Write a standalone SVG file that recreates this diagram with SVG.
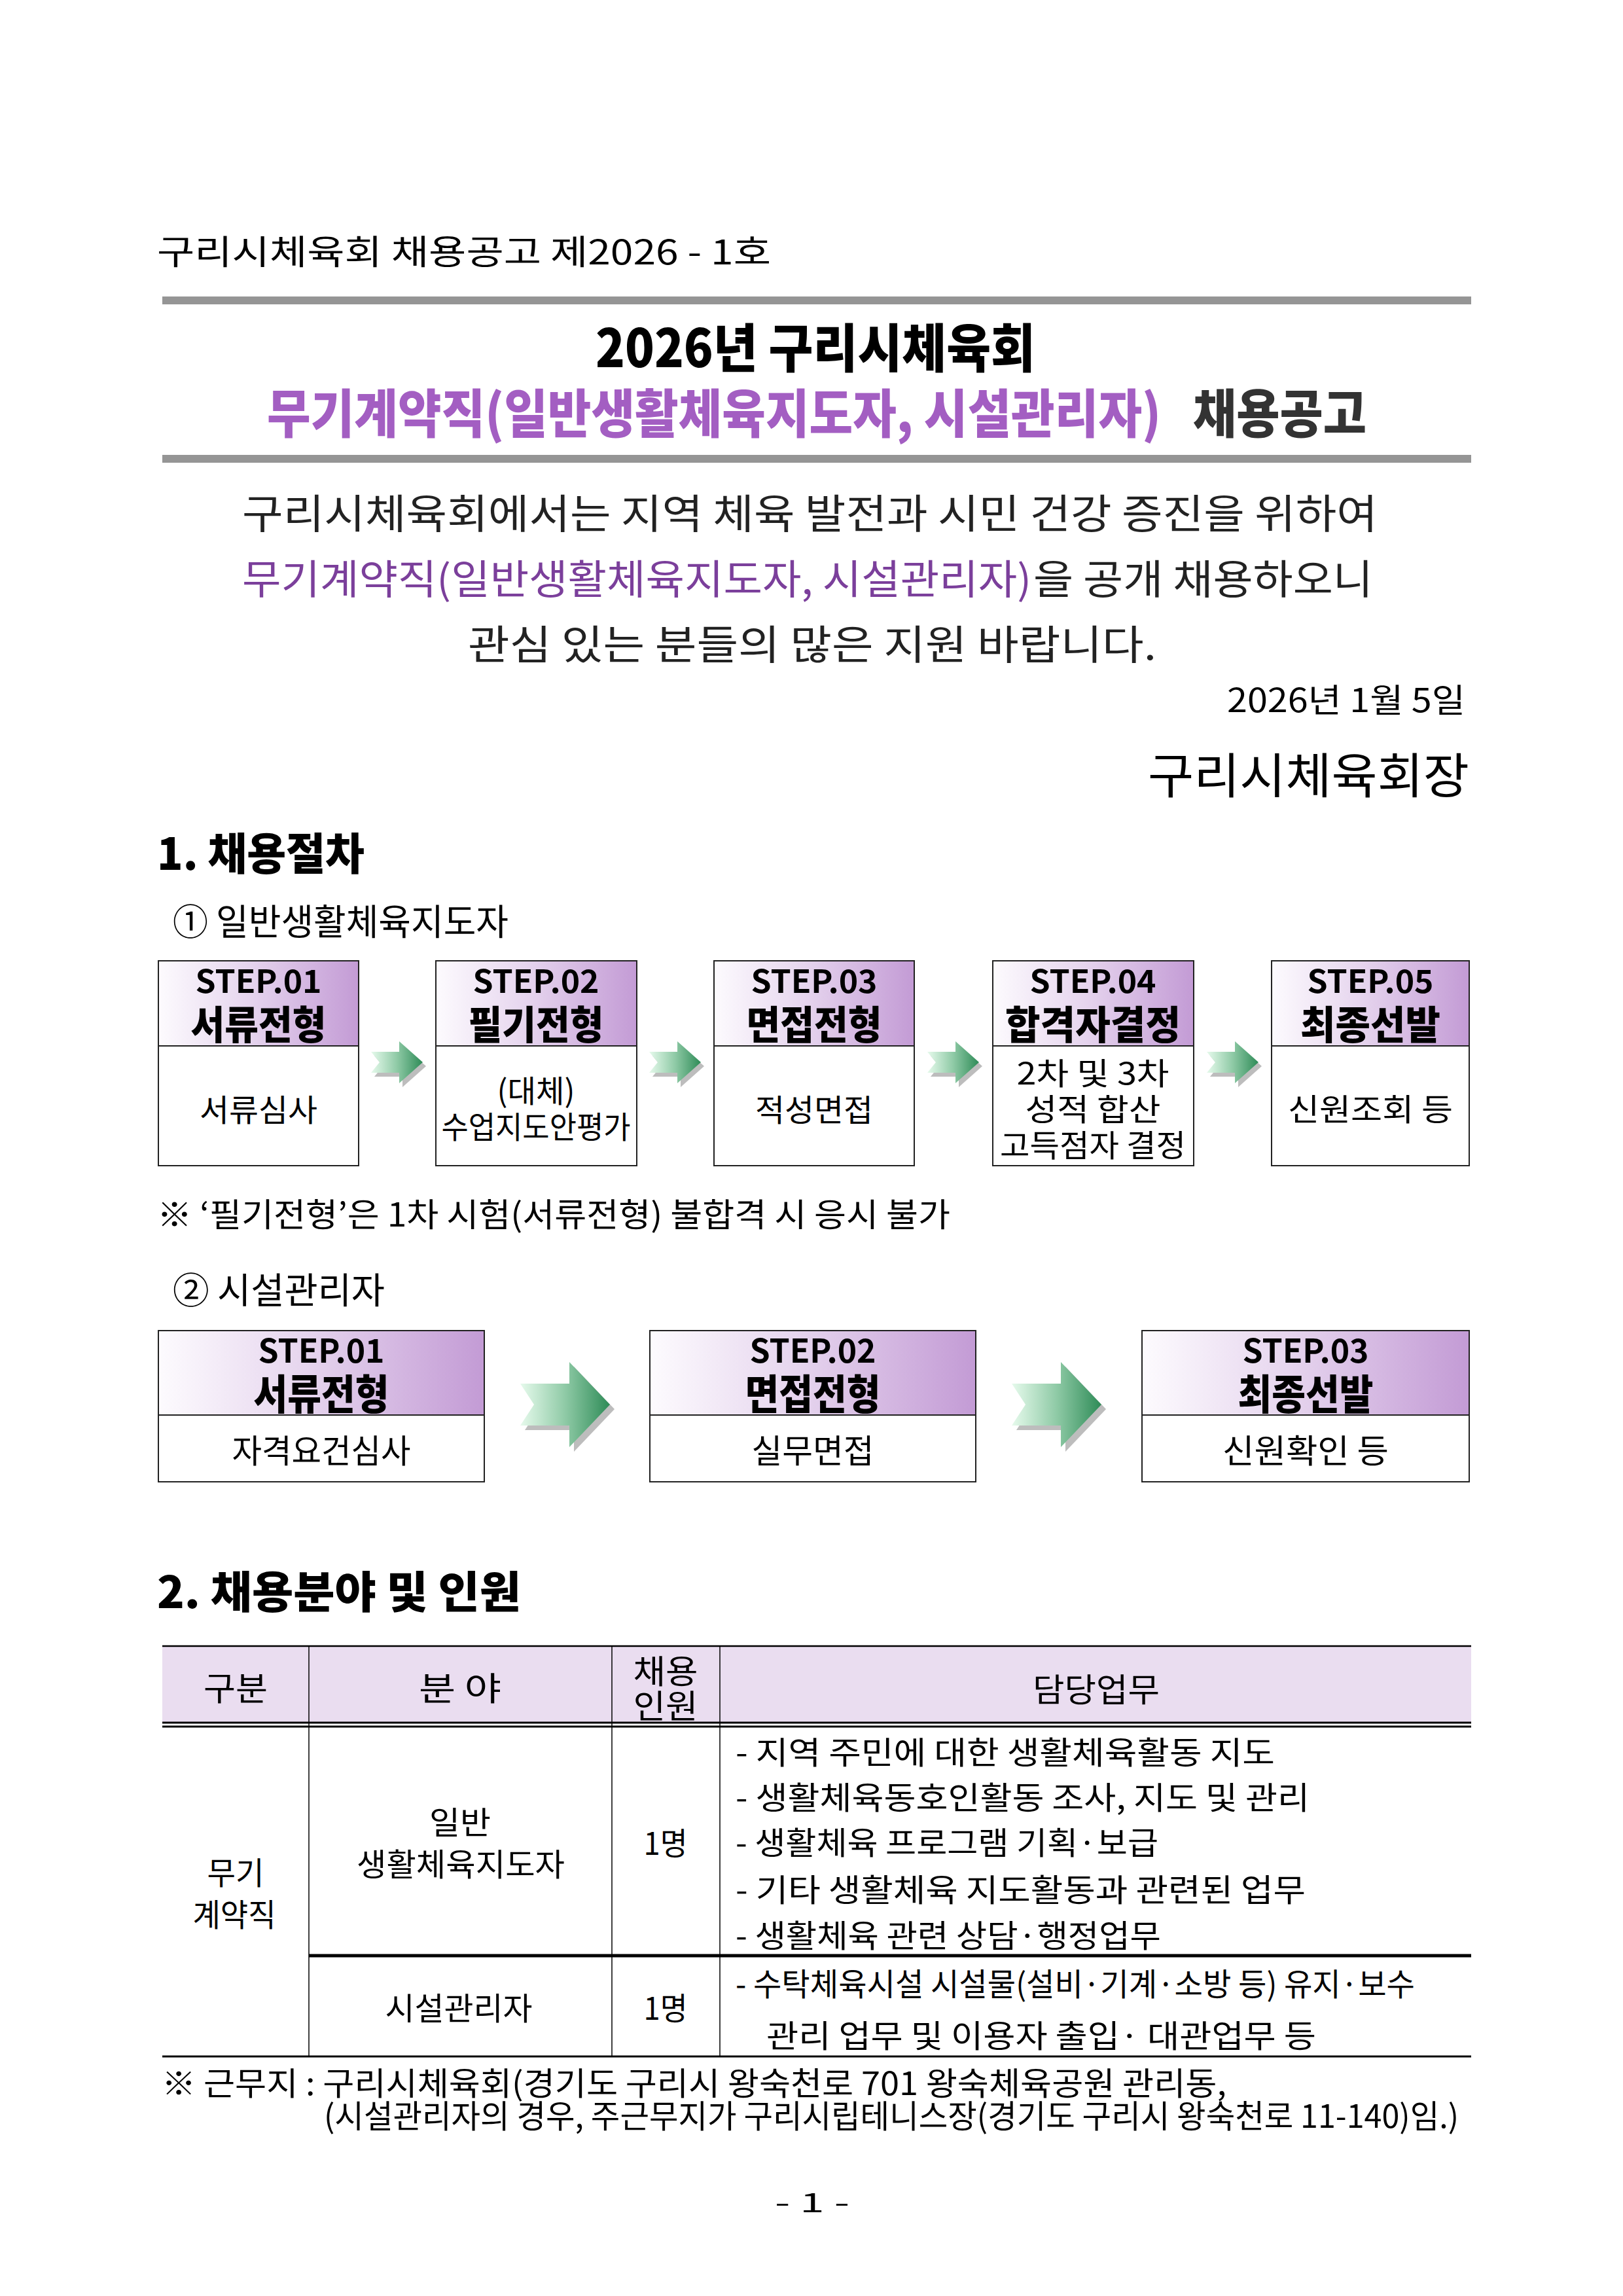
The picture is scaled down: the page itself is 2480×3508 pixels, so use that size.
<svg xmlns="http://www.w3.org/2000/svg" xmlns:xlink="http://www.w3.org/1999/xlink" width="2480" height="3508" viewBox="0 0 2480 3508">
<style>
text{font-family:"Noto Sans CJK KR","Noto Sans",sans-serif;fill:#000}
.b{font-weight:700}
.h{font-weight:900}
.c{text-anchor:middle}
.e{text-anchor:end}
.box{fill:#fff;stroke:#222;stroke-width:2}
.hd{fill:url(#hg);stroke:#222;stroke-width:2}
.tl{stroke:#000;fill:none}
</style>
<defs>
<linearGradient id="hg" x1="0" y1="0" x2="1" y2="0">
<stop offset="0" stop-color="#FDFBFE"/>
<stop offset="0.45" stop-color="#E6D5EE"/>
<stop offset="1" stop-color="#C39BD5"/>
</linearGradient>
<linearGradient id="ag" x1="0" y1="0" x2="1" y2="0">
<stop offset="0" stop-color="#E6FAEC"/>
<stop offset="0.5" stop-color="#8FCAA6"/>
<stop offset="1" stop-color="#2E8B57"/>
</linearGradient>
<path id="a1" d="M0,-16 L43,-16 L43,-32 L79,0 L43,32 L43,16 L0,16 L13,0 Z"/>
<path id="a2" d="M0,-32 L75,-32 L75,-65 L137,0 L75,65 L75,32 L0,32 L21,0 Z"/>
</defs>
<rect width="2480" height="3508" fill="#fff"/>

<g id="header">
<text x="240" y="404" font-size="52" textLength="938" lengthAdjust="spacingAndGlyphs">구리시체육회 채용공고 제2026 - 1호</text>
<rect x="248" y="453" width="2000" height="12" fill="#959595"/>
<text class="h c" x="1246" y="561" font-size="80" textLength="672" lengthAdjust="spacingAndGlyphs">2026년 구리시체육회</text>
<text class="h" x="408" y="661" font-size="80" textLength="1366" lengthAdjust="spacingAndGlyphs" style="fill:#A35EC2">무기계약직(일반생활체육지도자, 시설관리자)</text>
<text class="h" x="1823" y="661" font-size="80" textLength="265" lengthAdjust="spacingAndGlyphs" style="fill:#333">채용공고</text>
<rect x="248" y="695" width="2000" height="12" fill="#959595"/>
</g>

<g id="intro">
<text x="370" y="808" font-size="62" textLength="1735" lengthAdjust="spacingAndGlyphs" style="fill:#222">구리시체육회에서는 지역 체육 발전과 시민 건강 증진을 위하여</text>
<text x="370" y="908" font-size="62" textLength="1206" lengthAdjust="spacingAndGlyphs" style="fill:#7B3F9B">무기계약직(일반생활체육지도자, 시설관리자)</text>
<text x="1579" y="908" font-size="62" textLength="519" lengthAdjust="spacingAndGlyphs" style="fill:#222">을 공개 채용하오니</text>
<text x="715" y="1008" font-size="62" textLength="1052" lengthAdjust="spacingAndGlyphs" style="fill:#222">관심 있는 분들의 많은 지원 바랍니다.</text>
<text class="e" x="2239" y="1088" font-size="50" textLength="364" lengthAdjust="spacingAndGlyphs">2026년 1월 5일</text>
<text class="e" x="2245" y="1212" font-size="74" textLength="491" lengthAdjust="spacingAndGlyphs">구리시체육회장</text>
</g>

<g id="section1">
<text class="h" x="240" y="1329" font-size="67" textLength="317" lengthAdjust="spacingAndGlyphs">1. 채용절차</text>
<text x="264" y="1428" font-size="55" textLength="513" lengthAdjust="spacingAndGlyphs">① 일반생활체육지도자</text>
</g>

<g id="f1-step1">
<rect class="box" x="242" y="1468" width="306" height="313"/>
<rect class="hd" x="242" y="1468" width="306" height="130"/>
<text class="b c" x="395" y="1517" font-size="48" textLength="193" lengthAdjust="spacingAndGlyphs">STEP.01</text>
<text class="h c" x="395" y="1588" font-size="60" textLength="207" lengthAdjust="spacingAndGlyphs">서류전형</text>
<text class="c" x="395" y="1713" font-size="47" textLength="180" lengthAdjust="spacingAndGlyphs">서류심사</text>
</g>
<g id="f1-step2">
<rect class="box" x="666" y="1468" width="307" height="313"/>
<rect class="hd" x="666" y="1468" width="307" height="130"/>
<text class="b c" x="819" y="1517" font-size="48" textLength="193" lengthAdjust="spacingAndGlyphs">STEP.02</text>
<text class="h c" x="819" y="1588" font-size="60" textLength="207" lengthAdjust="spacingAndGlyphs">필기전형</text>
<text class="c" x="819" y="1684" font-size="47" textLength="119" lengthAdjust="spacingAndGlyphs">(대체)</text>
<text class="c" x="819" y="1739" font-size="47" textLength="289" lengthAdjust="spacingAndGlyphs">수업지도안평가</text>
</g>
<g id="f1-step3">
<rect class="box" x="1091" y="1468" width="306" height="313"/>
<rect class="hd" x="1091" y="1468" width="306" height="130"/>
<text class="b c" x="1244" y="1517" font-size="48" textLength="193" lengthAdjust="spacingAndGlyphs">STEP.03</text>
<text class="h c" x="1244" y="1588" font-size="60" textLength="207" lengthAdjust="spacingAndGlyphs">면접전형</text>
<text class="c" x="1244" y="1713" font-size="47" textLength="180" lengthAdjust="spacingAndGlyphs">적성면접</text>
</g>
<g id="f1-step4">
<rect class="box" x="1517" y="1468" width="307" height="313"/>
<rect class="hd" x="1517" y="1468" width="307" height="130"/>
<text class="b c" x="1670" y="1517" font-size="48" textLength="193" lengthAdjust="spacingAndGlyphs">STEP.04</text>
<text class="h c" x="1670" y="1588" font-size="60" textLength="268" lengthAdjust="spacingAndGlyphs">합격자결정</text>
<text class="c" x="1670" y="1657" font-size="47" textLength="233" lengthAdjust="spacingAndGlyphs">2차 및 3차</text>
<text class="c" x="1670" y="1712" font-size="47" textLength="207" lengthAdjust="spacingAndGlyphs">성적 합산</text>
<text class="c" x="1670" y="1767" font-size="47" textLength="284" lengthAdjust="spacingAndGlyphs">고득점자 결정</text>
</g>
<g id="f1-step5">
<rect class="box" x="1943" y="1468" width="302" height="313"/>
<rect class="hd" x="1943" y="1468" width="302" height="130"/>
<text class="b c" x="2094" y="1517" font-size="48" textLength="193" lengthAdjust="spacingAndGlyphs">STEP.05</text>
<text class="h c" x="2094" y="1588" font-size="60" textLength="214" lengthAdjust="spacingAndGlyphs">최종선발</text>
<text class="c" x="2094" y="1712" font-size="47" textLength="252" lengthAdjust="spacingAndGlyphs">신원조회 등</text>
</g>

<g id="notes1">
<text x="240" y="1874" font-size="50" textLength="1212" lengthAdjust="spacingAndGlyphs">※ ‘필기전형’은 1차 시험(서류전형) 불합격 시 응시 불가</text>
<text x="264" y="1991" font-size="55" textLength="324" lengthAdjust="spacingAndGlyphs">② 시설관리자</text>
</g>

<g id="f2-step1">
<rect class="box" x="242" y="2033" width="498" height="231"/>
<rect class="hd" x="242" y="2033" width="498" height="129"/>
<text class="b c" x="491" y="2082" font-size="50" textLength="193" lengthAdjust="spacingAndGlyphs">STEP.01</text>
<text class="h c" x="491" y="2153" font-size="63" textLength="207" lengthAdjust="spacingAndGlyphs">서류전형</text>
<text class="c" x="491" y="2235" font-size="50" textLength="273" lengthAdjust="spacingAndGlyphs">자격요건심사</text>
</g>
<g id="f2-step2">
<rect class="box" x="993" y="2033" width="498" height="231"/>
<rect class="hd" x="993" y="2033" width="498" height="129"/>
<text class="b c" x="1242" y="2082" font-size="50" textLength="193" lengthAdjust="spacingAndGlyphs">STEP.02</text>
<text class="h c" x="1242" y="2153" font-size="63" textLength="207" lengthAdjust="spacingAndGlyphs">면접전형</text>
<text class="c" x="1242" y="2235" font-size="50" textLength="187" lengthAdjust="spacingAndGlyphs">실무면접</text>
</g>
<g id="f2-step3">
<rect class="box" x="1745" y="2033" width="500" height="231"/>
<rect class="hd" x="1745" y="2033" width="500" height="129"/>
<text class="b c" x="1995" y="2082" font-size="50" textLength="193" lengthAdjust="spacingAndGlyphs">STEP.03</text>
<text class="h c" x="1995" y="2153" font-size="63" textLength="207" lengthAdjust="spacingAndGlyphs">최종선발</text>
<text class="c" x="1995" y="2235" font-size="50" textLength="254" lengthAdjust="spacingAndGlyphs">신원확인 등</text>
</g>

<g id="connectors">
<use xlink:href="#a1" transform="translate(572,1629)" fill="#BDBDBD"/>
<use xlink:href="#a1" transform="translate(567,1623)" fill="url(#ag)"/>
<use xlink:href="#a1" transform="translate(997,1629)" fill="#BDBDBD"/>
<use xlink:href="#a1" transform="translate(992,1623)" fill="url(#ag)"/>
<use xlink:href="#a1" transform="translate(1422,1629)" fill="#BDBDBD"/>
<use xlink:href="#a1" transform="translate(1417,1623)" fill="url(#ag)"/>
<use xlink:href="#a1" transform="translate(1849,1629)" fill="#BDBDBD"/>
<use xlink:href="#a1" transform="translate(1844,1623)" fill="url(#ag)"/>
<use xlink:href="#a2" transform="translate(802,2153)" fill="#BDBDBD"/>
<use xlink:href="#a2" transform="translate(795,2146)" fill="url(#ag)"/>
<use xlink:href="#a2" transform="translate(1553,2153)" fill="#BDBDBD"/>
<use xlink:href="#a2" transform="translate(1546,2146)" fill="url(#ag)"/>
</g>

<g id="section2">
<text class="h" x="240" y="2457" font-size="67" textLength="556" lengthAdjust="spacingAndGlyphs">2. 채용분야 및 인원</text>
</g>

<g id="table">
<rect x="248" y="2515" width="2000" height="117" fill="#EADDF0"/>
<line class="tl" x1="248" y1="2515" x2="2248" y2="2515" stroke-width="2.5"/>
<line class="tl" x1="248" y1="2632" x2="2248" y2="2632" stroke-width="3"/>
<line class="tl" x1="248" y1="2638" x2="2248" y2="2638" stroke-width="3"/>
<line class="tl" x1="472" y1="2515" x2="472" y2="3142" stroke-width="1.5"/>
<line class="tl" x1="935" y1="2515" x2="935" y2="3142" stroke-width="1.5"/>
<line class="tl" x1="1100" y1="2515" x2="1100" y2="3142" stroke-width="1.5"/>
<line class="tl" x1="472" y1="2988" x2="2248" y2="2988" stroke-width="5"/>
<line class="tl" x1="248" y1="3142" x2="2248" y2="3142" stroke-width="3"/>
<text class="c" x="360" y="2598" font-size="50" textLength="98" lengthAdjust="spacingAndGlyphs">구분</text>
<text class="c" x="703" y="2598" font-size="50" textLength="126" lengthAdjust="spacingAndGlyphs">분 야</text>
<text class="c" x="1017" y="2572" font-size="50" textLength="99" lengthAdjust="spacingAndGlyphs">채용</text>
<text class="c" x="1017" y="2625" font-size="50" textLength="99" lengthAdjust="spacingAndGlyphs">인원</text>
<text class="c" x="1675" y="2600" font-size="50" textLength="194" lengthAdjust="spacingAndGlyphs">담당업무</text>
<text class="c" x="360" y="2879" font-size="48" textLength="87" lengthAdjust="spacingAndGlyphs">무기</text>
<text class="c" x="358" y="2943" font-size="48" textLength="127" lengthAdjust="spacingAndGlyphs">계약직</text>
<text class="c" x="703" y="2802" font-size="48" textLength="94" lengthAdjust="spacingAndGlyphs">일반</text>
<text class="c" x="704" y="2866" font-size="48" textLength="318" lengthAdjust="spacingAndGlyphs">생활체육지도자</text>
<text class="c" x="1017" y="2834" font-size="48" textLength="67" lengthAdjust="spacingAndGlyphs">1명</text>
<text x="1124" y="2695" font-size="48" textLength="824" lengthAdjust="spacingAndGlyphs">- 지역 주민에 대한 생활체육활동 지도</text>
<text x="1124" y="2764" font-size="48" textLength="877" lengthAdjust="spacingAndGlyphs">- 생활체육동호인활동 조사, 지도 및 관리</text>
<text x="1124" y="2833" font-size="48" textLength="646" lengthAdjust="spacingAndGlyphs">- 생활체육 프로그램 기획·보급</text>
<text x="1124" y="2905" font-size="48" textLength="871" lengthAdjust="spacingAndGlyphs">- 기타 생활체육 지도활동과 관련된 업무</text>
<text x="1124" y="2975" font-size="48" textLength="650" lengthAdjust="spacingAndGlyphs">- 생활체육 관련 상담·행정업무</text>
<text class="c" x="701" y="3086" font-size="48" textLength="225" lengthAdjust="spacingAndGlyphs">시설관리자</text>
<text class="c" x="1017" y="3086" font-size="48" textLength="67" lengthAdjust="spacingAndGlyphs">1명</text>
<text x="1124" y="3049" font-size="48" textLength="1038" lengthAdjust="spacingAndGlyphs">- 수탁체육시설 시설물(설비·기계·소방 등) 유지·보수</text>
<text x="1171" y="3128" font-size="48" textLength="840" lengthAdjust="spacingAndGlyphs">관리 업무 및 이용자 출입· 대관업무 등</text>
</g>

<g id="footer">
<text x="247" y="3201" font-size="49" textLength="1627" lengthAdjust="spacingAndGlyphs">※ 근무지 : 구리시체육회(경기도 구리시 왕숙천로 701 왕숙체육공원 관리동,</text>
<text x="495" y="3251" font-size="49" textLength="1734" lengthAdjust="spacingAndGlyphs">(시설관리자의 경우, 주근무지가 구리시립테니스장(경기도 구리시 왕숙천로 11-140)임.)</text>
<text class="c" x="1241" y="3380" font-size="40" textLength="114" lengthAdjust="spacingAndGlyphs">- 1 -</text>
</g>
</svg>
